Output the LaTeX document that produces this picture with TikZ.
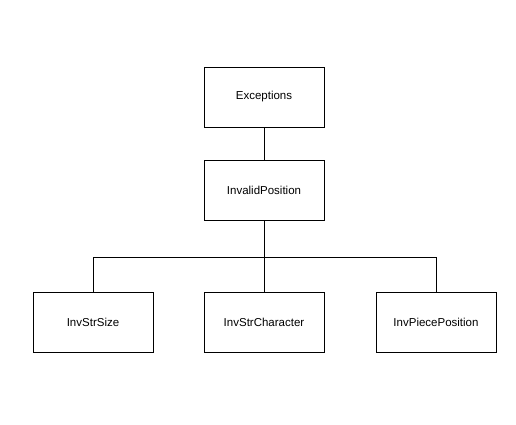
\documentclass[tikz,border=0pt]{standalone}
\usepackage{fontspec}
\setmainfont{Liberation Sans}
\begin{document}
\begin{tikzpicture}[x=1pt,y=-1pt,
  box/.style={draw, line width=0.9pt, minimum width=120pt, minimum height=60pt, inner sep=0pt, font=\fontsize{11.5}{13}\selectfont},
  link/.style={draw, line width=1pt}]
\useasboundingbox (0,0) rectangle (516,424);
\fill[white] (0,0) rectangle (516,424);
\node[box] (exc) at (264,97) {Exceptions};
\node[box] (inv) at (264,190) {InvalidPosition};
\node[box] (size) at (93,322) {InvStrSize};
\node[box] (chr) at (264,322) {InvStrCharacter};
\node[box] (piece) at (436,322) {InvPiecePosition};
\coordinate (j) at (264,257);
\draw[link] (exc.south) -- (inv.north);
\draw[link] (inv.south) -- (chr.north);
\draw[link] (j) -| (size.north);
\draw[link] (j) -| (piece.north);
\end{tikzpicture}
\end{document}
